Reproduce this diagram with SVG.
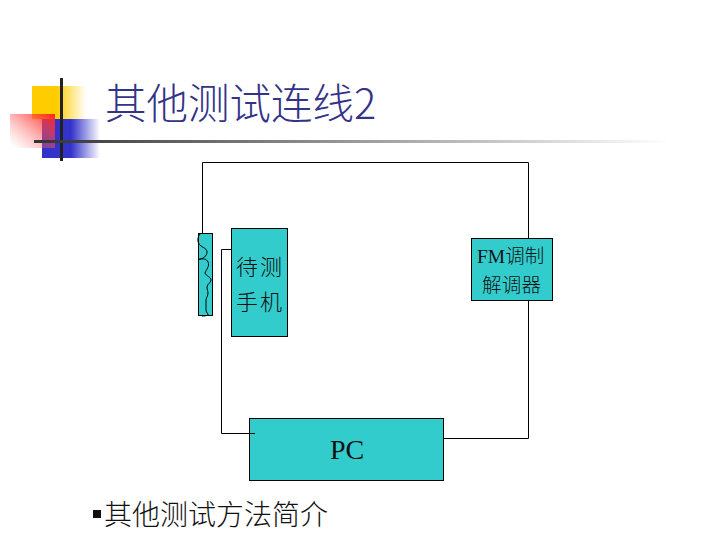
<svg xmlns="http://www.w3.org/2000/svg" width="720" height="540" viewBox="0 0 720 540">
<style>
.box{fill:#33cccc;stroke:#000;stroke-width:1}
.wire{fill:none;stroke:#000;stroke-width:1}
.lab{font-family:"Noto Sans CJK SC","Liberation Serif",serif;font-weight:300;fill:#111}
.ser{font-family:"Liberation Serif","Noto Sans CJK SC",serif;fill:#111}
</style>
<defs>
<linearGradient id="y" x1="0" x2="1" y1="0" y2="0"><stop offset="0.45" stop-color="#ffcc00"/><stop offset="1" stop-color="#ffcc00" stop-opacity="0"/></linearGradient>
<linearGradient id="b" x1="0" x2="1" y1="0" y2="0"><stop offset="0.5" stop-color="#3333cc"/><stop offset="1" stop-color="#3333cc" stop-opacity="0"/></linearGradient>
<linearGradient id="r" x1="1" x2="0" y1="0" y2="0.9"><stop offset="0" stop-color="#ff2020"/><stop offset="1" stop-color="#ff8080" stop-opacity="0"/></linearGradient>
<linearGradient id="l" x1="0" x2="1" y1="0" y2="0"><stop offset="0" stop-color="#333"/><stop offset="0.5" stop-color="#999"/><stop offset="1" stop-color="#fff"/></linearGradient>
</defs>
<g id="logo">
<rect x="32" y="86" width="54" height="33" fill="url(#y)"/>
<rect x="42" y="119" width="58" height="39" fill="url(#b)"/>
<rect x="10" y="114" width="45" height="34" fill="url(#r)"/>
<rect x="60" y="78" width="3" height="83" fill="#222"/>
</g>
<rect id="title-rule" x="34" y="140" width="636" height="3" fill="url(#l)"/>
<text id="title" x="105" y="119" font-size="41.500" style="font-family:'Noto Sans CJK SC','Liberation Sans',sans-serif;font-weight:300;fill:#333388">其他测试连线2</text>
<g id="coil">
<rect class="box" x="198.500" y="233.500" width="14" height="82"/>
<path class="wire" d="M200 234C197 238 197 243 201 246C204 248 207 249 207 252C207 256 203 259 198.500 259.500C203 258 207 259 208 262C210 266 206 270 205 273C206 276 211 277 211 280C211 283 207 284 207 287C207 290 208 291 208 293C208 296 206 298 206 300V310C206 313 209 314 208 315C206 316 204 316 202 316"/>
</g>
<g id="phone">
<rect class="box" x="231.500" y="228.500" width="56" height="108"/>
<text class="lab" x="236" y="275" font-size="22" textLength="46">待测</text>
<text class="lab" x="236" y="310" font-size="22" textLength="46">手机</text>
</g>
<g id="fm">
<rect class="box" x="471.500" y="238.500" width="81" height="62"/>
<text class="ser" x="477" y="263" font-size="19.500">FM<tspan style="font-family:'Noto Sans CJK SC',serif;font-weight:300">调制</tspan></text>
<text class="lab" x="482" y="292" font-size="19.500" textLength="59">解调器</text>
</g>
<g id="pc">
<rect class="box" x="249.500" y="418.500" width="194" height="62"/>
<text class="ser" x="330" y="459" font-size="28">PC</text>
</g>
<g id="connectors">
<path class="wire" d="M202.500 233V162.500H528.500V238"/>
<path class="wire" d="M528.500 300V438.500H443"/>
<path class="wire" d="M231 249.500H221.500V433.500H255"/>
</g>
<rect id="bullet" x="93" y="510" width="8" height="8" fill="#111"/>
<text id="bullet-text" class="lab" x="104" y="525" font-size="28">其他测试方法简介</text>
</svg>
